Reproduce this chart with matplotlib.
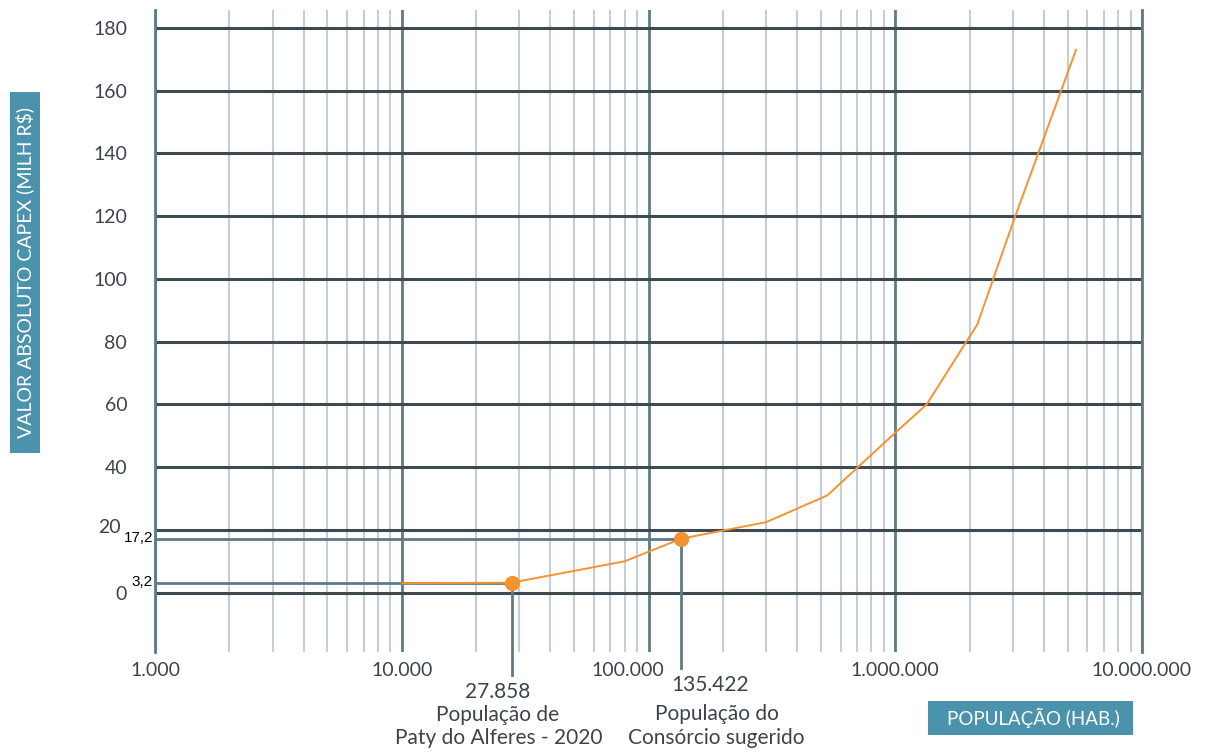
import numpy as np
import matplotlib.pyplot as plt
import matplotlib.transforms as mtransforms
from matplotlib.patches import Rectangle
from matplotlib.ticker import LogLocator, NullFormatter, FixedLocator

# CAPEX curve (population vs absolute value, millions R$)
pop = [10000, 27858, 80000, 135422, 300000, 530000, 1000000, 1340000, 2150000, 3000000, 5400000]
capex = [3.0, 3.2, 10.0, 17.2, 22.5, 31.0, 51.0, 60.0, 85.5, 118.0, 173.0]

# highlighted scenarios
mark_pop = [27858, 135422]
mark_capex = [3.2, 17.2]
mark_value_txt = ['3,2', '17,2']
mark_pop_txt = ['27.858', '135.422']
mark_desc = [['População de', 'Paty do Alferes - 2020'],
             ['População do', 'Consórcio sugerido']]

x_ticks = [1e3, 1e4, 1e5, 1e6, 1e7]
x_ticklabels = ['1.000', '10.000', '100.000', '1.000.000', '10.000.000']
y_ticks = [0, 20, 40, 60, 80, 100, 120, 140, 160, 180]

plt.rcParams['font.family'] = ['Lato', 'DejaVu Sans']

teal = '#4b93ac'
slate = '#5f7a87'
dark = '#3e4a50'
light = '#c5ced5'
txt = '#3d4449'
orange = '#f59331'

fig = plt.figure(figsize=(12.05, 7.53), dpi=100)
ax = fig.add_axes([155/1205, 1-652/753, (1142-155)/1205, (652-9.5)/753])

ax.set_xscale('log')
ax.set_xlim(1e3, 1e7)
ax.set_ylim(-18.9, 185.9)

ax.xaxis.set_major_locator(FixedLocator(x_ticks))
ax.set_xticklabels(x_ticklabels)
ax.xaxis.set_minor_locator(LogLocator(base=10, subs=np.arange(2, 10)))
ax.xaxis.set_minor_formatter(NullFormatter())
ax.set_yticks(y_ticks)

ax.tick_params(axis='both', which='both', length=0)
ax.tick_params(axis='y', pad=20, labelsize=14, labelcolor=txt)
ax.tick_params(axis='x', pad=7, labelsize=14, labelcolor=txt)

def shift_label(lab, dx, dy):
    lab.set_transform(lab.get_transform() + mtransforms.ScaledTranslation(dx/100, dy/100, fig.dpi_scale_trans))

# nudge 100.000 left so it does not collide with the 135.422 label,
# and 20 up/left to leave room for the 17,2 value
shift_label(ax.get_xticklabels()[2], -21, 0)
shift_label(ax.get_yticklabels()[1], -6, 4)

for s in ['top', 'bottom']:
    ax.spines[s].set_visible(False)
for s in ['left', 'right']:
    ax.spines[s].set_color(slate)
    ax.spines[s].set_linewidth(2)

ax.set_axisbelow(True)
ax.yaxis.grid(True, which='major', color=dark, linewidth=2.2, zorder=0)
ax.xaxis.grid(True, which='minor', color=light, linewidth=1.5, zorder=1)
ax.xaxis.grid(True, which='major', color=slate, linewidth=2, zorder=1)

# reference lines for the two scenarios
for x, y in zip(mark_pop, mark_capex):
    ax.plot([1e3, x], [y, y], color=slate, linewidth=2, zorder=3)
ax.plot([mark_pop[0]]*2, [mark_capex[0], -26.3], color=slate, linewidth=2, zorder=3, clip_on=False)
ax.plot([mark_pop[1]]*2, [mark_capex[1], -24.0], color=slate, linewidth=2, zorder=3, clip_on=False)

ax.plot(pop, capex, color=orange, linewidth=1.4, zorder=4)
ax.plot(mark_pop, mark_capex, 'o', color=orange, markersize=10, zorder=5)

for y, t in zip(mark_capex, mark_value_txt):
    ax.annotate(t, xy=(0, y), xycoords=('axes fraction', 'data'), xytext=(-2, 1),
                textcoords='offset pixels', ha='right', va='center',
                fontsize=11, color='black', family='Liberation Sans')

# labels under the x axis
num_off = [(-14, -40), (29, -33)]
desc_off = [[(-14, -63), (-13, -86)], [(36, -62), (35, -86)]]
for i, x in enumerate(mark_pop):
    ax.annotate(mark_pop_txt[i], xy=(x, 0), xycoords=('data', 'axes fraction'),
                xytext=num_off[i], textcoords='offset pixels', ha='center', va='center',
                fontsize=15, color=txt, annotation_clip=False)
    for line, off in zip(mark_desc[i], desc_off[i]):
        ax.annotate(line, xy=(x, 0), xycoords=('data', 'axes fraction'),
                    xytext=off, textcoords='offset pixels', ha='center', va='center',
                    fontsize=15, color=txt, annotation_clip=False)

# boxed axis titles
fig.patches.append(Rectangle((10/1205, 1-453/753), 30/1205, 361/753,
                             transform=fig.transFigure, facecolor=teal, edgecolor='none'))
fig.text(25/1205, 1-272/753, 'VALOR ABSOLUTO CAPEX (MILH R$)', rotation=90,
         ha='center', va='center', color='white', fontsize=14)
fig.patches.append(Rectangle((928/1205, 1-735/753), 205/1205, 34/753,
                             transform=fig.transFigure, facecolor=teal, edgecolor='none'))
fig.text(1033/1205, 1-718/753, 'POPULAÇÃO (HAB.)', ha='center', va='center',
         color='white', fontsize=13.5)

fig.savefig('out.png', dpi=100)
